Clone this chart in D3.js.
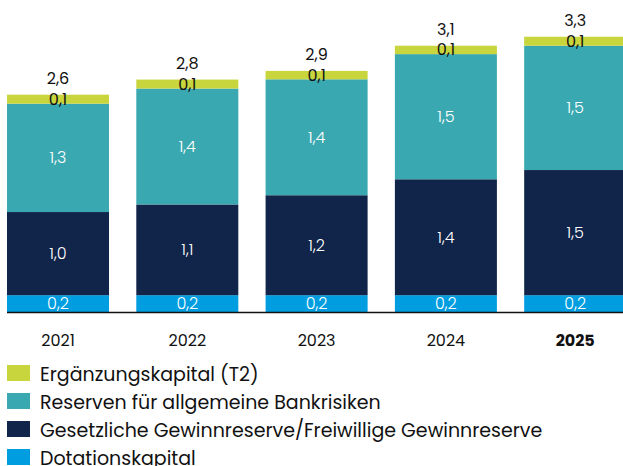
<!DOCTYPE html>
<html>
<head>
<meta charset="utf-8">
<script src="https://cdn.jsdelivr.net/npm/d3@7"></script>
<style>
  html, body { margin: 0; padding: 0; background: #fff; }
  svg { display: block; }
  text { font-family: Poppins, Inter, "Noto Sans", sans-serif; }
</style>
</head>
<body>
<svg id="chart" width="623" height="466"></svg>
<script>
// ---- data ----
const years = ["2021", "2022", "2023", "2024", "2025"];
const seriesNames = [
  "Dotationskapital",
  "Gesetzliche Gewinnreserve/Freiwillige Gewinnreserve",
  "Reserven für allgemeine Bankrisiken",
  "Ergänzungskapital (T2)"
];
const dotationskapital = [0.20, 0.20, 0.20, 0.20, 0.20];
const gewinnreserve    = [0.99, 1.08, 1.19, 1.38, 1.49];
const bankrisiken      = [1.29, 1.38, 1.38, 1.49, 1.48];
const ergaenzung       = [0.107, 0.107, 0.10, 0.10, 0.107];
const labelsDotation   = ["0,2", "0,2", "0,2", "0,2", "0,2"];
const labelsGewinn     = ["1,0", "1,1", "1,2", "1,4", "1,5"];
const labelsBank       = ["1,3", "1,4", "1,4", "1,5", "1,5"];
const labelsErg        = ["0,1", "0,1", "0,1", "0,1", "0,1"];
const totalLabels      = ["2,6", "2,8", "2,9", "3,1", "3,3"];
const colors = ["#009ee0", "#11244a", "#3aa8b0", "#c8d53c"];
const labelColors = ["#ffffff", "#ffffff", "#ffffff", "#111111"];

const seriesValues = [dotationskapital, gewinnreserve, bankrisiken, ergaenzung];
const seriesLabels = [labelsDotation, labelsGewinn, labelsBank, labelsErg];

const table = years.map((yr, i) => {
  const row = { year: yr, i };
  seriesNames.forEach((n, s) => row[n] = seriesValues[s][i]);
  return row;
});

const svg = d3.select("#chart");
const baseY = 312;

const x = d3.scaleBand().domain(years).range([7, 626.2]).paddingInner(0.211).paddingOuter(0);
const y = d3.scaleLinear().domain([0, 3.5]).range([baseY, baseY - 3.5 * 84]);

const stacked = d3.stack().keys(seriesNames)(table);

const g = svg.append("g");
stacked.forEach((layer, s) => {
  g.append("g").selectAll("rect").data(layer).join("rect")
    .attr("x", d => x(d.data.year))
    .attr("width", x.bandwidth())
    .attr("y", d => y(d[1]))
    .attr("height", d => y(d[0]) - y(d[1]))
    .attr("fill", colors[s]);
});
stacked.forEach((layer, s) => {
  g.append("g").selectAll("text").data(layer).join("text")
    .attr("x", d => x(d.data.year) + x.bandwidth() / 2)
    .attr("y", d => (y(d[0]) + y(d[1])) / 2 + 5.5)
    .attr("text-anchor", "middle")
    .attr("font-size", 16)
    .attr("font-weight", s === 3 ? 400 : 300)
    .attr("fill", labelColors[s])
    .text(d => seriesLabels[s][d.data.i]);
});
// totals
const topLayer = stacked[stacked.length - 1];
g.append("g").selectAll("text").data(topLayer).join("text")
  .attr("x", d => x(d.data.year) + x.bandwidth() / 2)
  .attr("y", d => y(d[1]) - 11)
  .attr("text-anchor", "middle")
  .attr("font-size", 16)
  .attr("fill", "#111")
  .text(d => totalLabels[d.data.i]);

// axis
const xAxis = d3.axisBottom(x).tickSize(0).tickPadding(0);
const ax = svg.append("g").attr("transform", `translate(0,${baseY})`).call(xAxis);
ax.select(".domain").remove();
ax.selectAll(".tick text")
  .attr("y", 33.7)
  .attr("dy", null)
  .attr("font-size", 16)
  .attr("fill", "#111")
  .attr("font-weight", d => d === "2025" ? 700 : 400);
ax.attr("font-family", null).attr("font-size", null);
svg.append("line")
  .attr("x1", 7).attr("x2", 623)
  .attr("y1", baseY + 0.5).attr("y2", baseY + 0.5)
  .attr("stroke", "#111").attr("stroke-width", 1.5);

// legend
const legendOrder = [3, 2, 1, 0];
const lgd = svg.append("g");
legendOrder.forEach((s, k) => {
  const yy = 365 + k * 28;
  lgd.append("rect").attr("x", 7).attr("y", yy).attr("width", 23).attr("height", 16).attr("fill", colors[s]);
  lgd.append("text").attr("x", 40).attr("y", yy + 16).attr("font-size", 19).attr("fill", "#111").text(seriesNames[s]);
});
</script>
</body>
</html>
